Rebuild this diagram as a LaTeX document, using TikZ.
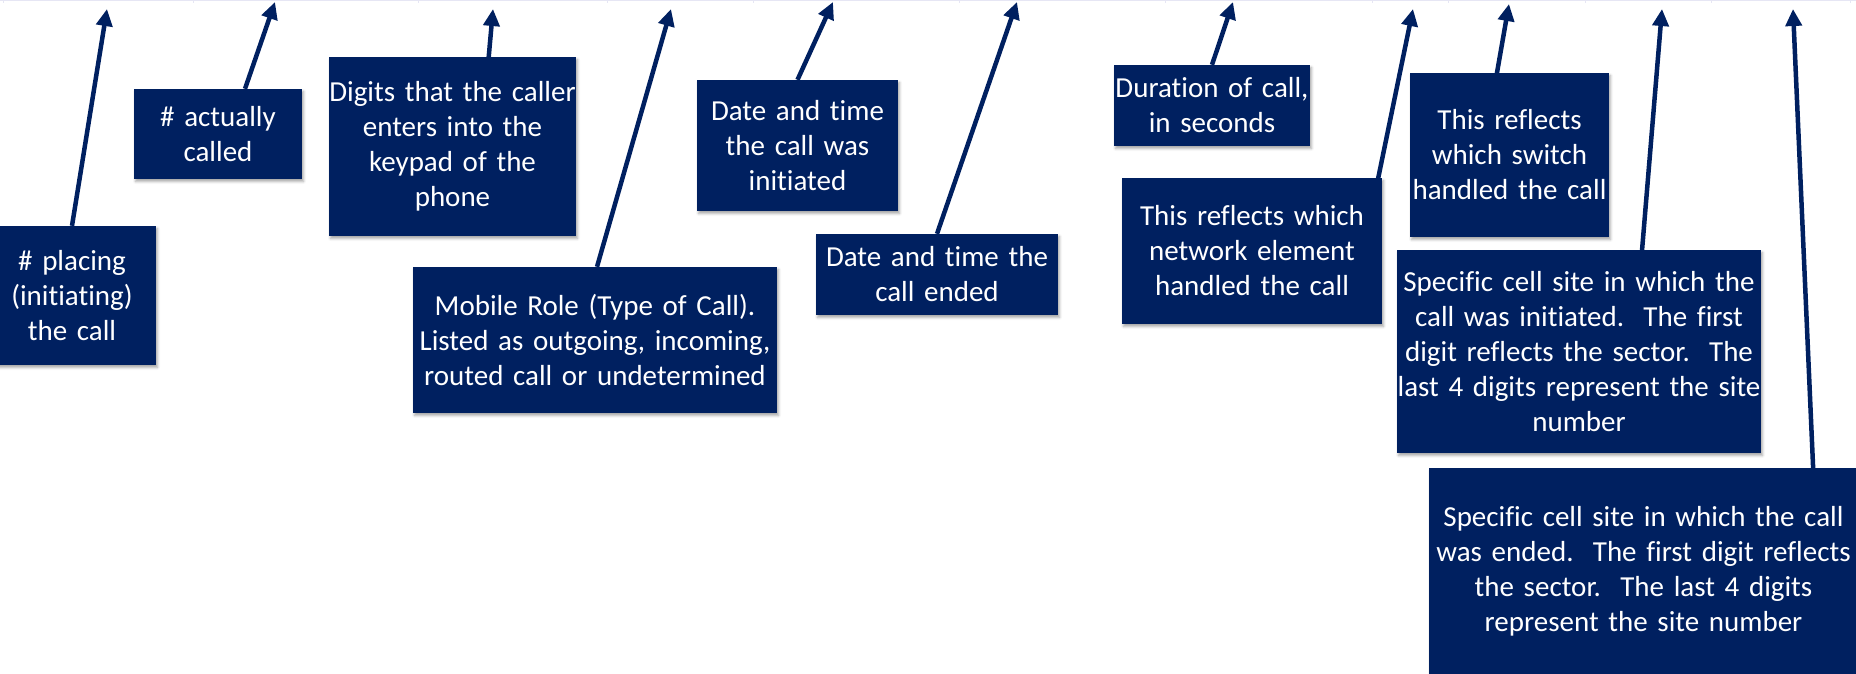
\documentclass[tikz,border=0pt]{standalone}
\usepackage{fontspec}
\setmainfont{Carlito}[Ligatures=NoCommon]
\usetikzlibrary{arrows.meta,calc,shadows.blur}
\definecolor{navy}{HTML}{002060}
\definecolor{faintline}{HTML}{E6E6F4}
\begin{document}
\begin{tikzpicture}[x=1pt,y=-1pt,
  box/.style={fill=navy, text=white, inner sep=0pt, align=center,
    font=\fontsize{29}{35}\selectfont\frenchspacing,
    blur shadow={shadow xshift=1.5pt, shadow yshift=-2.5pt, shadow blur radius=2.5pt, shadow opacity=35}},
  arr/.style={draw=navy, line width=4.5pt, -{Triangle[width=16pt,length=17pt]}},
  tick/.style={draw=faintline, line width=1pt}]
\useasboundingbox (0,0) rectangle (1856,673);

% faint top rule of the cropped table
\draw[tick] (0,0.5) -- (1856,0.5);
\foreach \x in {3,193,418,607,753,959,1165,1372,1448,1585,1711,1850}
  \draw[tick] (\x,0) -- (\x,3);

% boxes
\node[box, text width=168pt, minimum height=139pt] (b1) at (72,295.5) {\#~placing\\(initiating)\\the call};
\node[box, text width=168pt, minimum height=90pt] (b2) at (218,134) {\#~actually\\called};
\node[box, text width=247pt, minimum height=179pt] (b3) at (452.5,146.5) {Digits that the caller\\enters into the\\keypad of the\\phone};
\node[box, text width=364pt, minimum height=146pt] (b4) at (595,340) {Mobile Role (Type of Call).\\Listed as outgoing, incoming,\\routed call or undetermined};
\node[box, text width=201pt, minimum height=131pt] (b5) at (797.5,145.5) {Date and time\\the call was\\initiated};
\node[box, text width=242pt, minimum height=81pt] (b6) at (937,274.5) {Date and time the\\call ended};
\node[box, text width=196pt, minimum height=81pt] (b7) at (1212,105.5) {Duration of call,\\in seconds};
\node[box, text width=260pt, minimum height=146pt] (b8) at (1252,251) {This reflects which\\network element\\handled the call};
\node[box, text width=199pt, minimum height=164pt] (b9) at (1509.5,155) {This reflects\\which switch\\handled the call};
\node[box, text width=364pt, minimum height=203pt] (b10) at (1579,351.5) {Specific cell site in which the\\call was initiated.\ \ The first\\digit reflects the sector.\ \ The\\last 4 digits represent the site\\number};
\node[box, text width=429pt, minimum height=206pt] (b11) at (1643.5,571) {Specific cell site in which the call\\was ended.\ \ The first digit reflects\\the sector.\ \ The last 4 digits\\represent the site number};

% arrow tips
\coordinate (t1) at (107,9);
\coordinate (t2) at (275,2);
\coordinate (t3) at (493,9);
\coordinate (t4) at (671,9);
\coordinate (t5) at (833,2);
\coordinate (t6) at (1017,2);
\coordinate (t7) at (1233,2);
\coordinate (t8) at (1413,9);
\coordinate (t9) at (1509,4);
\coordinate (t10) at (1662,9);
\coordinate (t11) at (1793,9);

% arrows
\draw[arr] (b1.north) -- (t1);
\draw[arr] ($(b2.north)+(27,0)$) -- (t2);
\draw[arr] ($(b3.north)+(35.5,8)$) -- (t3);
\draw[arr] ($(b4.north)+(2,0)$) -- (t4);
\draw[arr] (b5.north) -- (t5);
\draw[arr] (b6.north) -- (t6);
\draw[arr] (b7.north) -- (t7);
\draw[arr] ($(b8.north)+(124,11)$) -- (t8);
\draw[arr] ($(b9.north)+(-15.5,17)$) -- (t9);
\draw[arr] ($(b10.north)+(61,25)$) -- (t10);
\draw[arr] ($(b11.north)+(171.5,43)$) -- (t11);
\end{tikzpicture}
\end{document}
